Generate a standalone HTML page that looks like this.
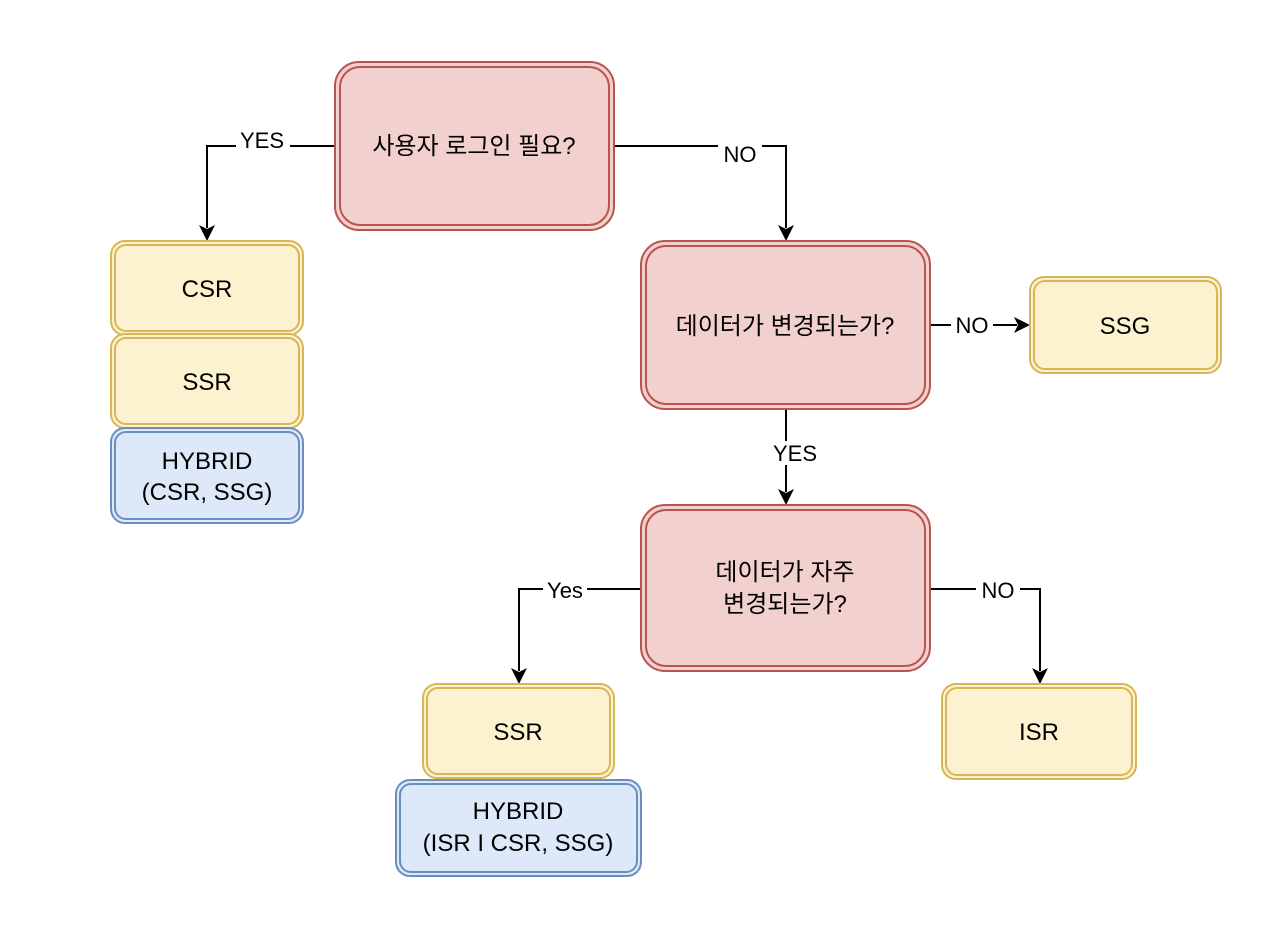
<!DOCTYPE html>
<html><head><meta charset="utf-8"><style>
html,body{margin:0;padding:0;background:#fff;}
svg text{font-family:"Liberation Sans","Noto Sans CJK KR",sans-serif;fill:#000;}
</style></head><body>
<svg width="1280" height="935" viewBox="0 0 1280 935" xmlns="http://www.w3.org/2000/svg">
<defs>
<marker id="a" markerWidth="14" markerHeight="14" refX="7" refY="12" orient="auto" markerUnits="userSpaceOnUse">
<path d="M0,0 L7,4 L14,0 L7,14 Z" fill="#000" transform="rotate(0)"/>
</marker>
</defs>
<g fill="none" stroke="#000" stroke-width="2">
<polyline points="335,146 207,146 207,228"/>
<polyline points="614,146 786,146 786,228"/>
<polyline points="930,325 1017,325"/>
<polyline points="786,409 786,492"/>
<polyline points="641,589 519,589 519,671"/>
<polyline points="930,589 1040,589 1040,671"/>
</g>
<g fill="#000">
<path d="M199,225 L207,241 L215,225 L207,229 Z"/>
<path d="M778,225 L786,241 L794,225 L786,229 Z"/>
<path d="M1014,317 L1030,325 L1014,333 L1018,325 Z"/>
<path d="M778,489 L786,505 L794,489 L786,493 Z"/>
<path d="M511,668 L519,684 L527,668 L519,672 Z"/>
<path d="M1032,668 L1040,684 L1048,668 L1040,672 Z"/>
</g>
<g font-size="22" text-anchor="middle">
<rect x="236" y="128" width="54" height="24" fill="#fff"/><text x="262" y="148">YES</text>
<rect x="718" y="142" width="44" height="24" fill="#fff"/><text x="740" y="162">NO</text>
<rect x="951" y="313" width="42" height="24" fill="#fff"/><text x="972" y="333">NO</text>
<rect x="766" y="441" width="58" height="24" fill="#fff"/><text x="795" y="461">YES</text>
<rect x="543" y="578" width="44" height="24" fill="#fff"/><text x="565" y="598">Yes</text>
<rect x="976" y="578" width="44" height="24" fill="#fff"/><text x="998" y="598">NO</text>
</g>
<g stroke-width="2">
<!-- red -->
<rect x="335" y="62" width="279" height="168" rx="24" fill="#f2d0ce" stroke="#b85450"/>
<rect x="340" y="67" width="269" height="158" rx="20" fill="none" stroke="#b85450"/>
<rect x="641" y="241" width="289" height="168" rx="24" fill="#f2d0ce" stroke="#b85450"/>
<rect x="646" y="246" width="279" height="158" rx="20" fill="none" stroke="#b85450"/>
<rect x="641" y="505" width="289" height="166" rx="24" fill="#f2d0ce" stroke="#b85450"/>
<rect x="646" y="510" width="279" height="156" rx="20" fill="none" stroke="#b85450"/>
<!-- yellow -->
<rect x="111" y="241" width="192" height="94" rx="14" fill="#fdf2d0" stroke="#d6b656"/>
<rect x="115" y="245" width="184" height="86" rx="11" fill="none" stroke="#d6b656"/>
<rect x="111" y="334" width="192" height="94" rx="14" fill="#fdf2d0" stroke="#d6b656"/>
<rect x="115" y="338" width="184" height="86" rx="11" fill="none" stroke="#d6b656"/>
<rect x="1030" y="277" width="191" height="96" rx="14" fill="#fdf2d0" stroke="#d6b656"/>
<rect x="1034" y="281" width="183" height="88" rx="11" fill="none" stroke="#d6b656"/>
<rect x="423" y="684" width="191" height="94" rx="14" fill="#fdf2d0" stroke="#d6b656"/>
<rect x="427" y="688" width="183" height="86" rx="11" fill="none" stroke="#d6b656"/>
<rect x="942" y="684" width="194" height="95" rx="14" fill="#fdf2d0" stroke="#d6b656"/>
<rect x="946" y="688" width="186" height="87" rx="11" fill="none" stroke="#d6b656"/>
<!-- blue -->
<rect x="111" y="428" width="192" height="95" rx="14" fill="#dde8f8" stroke="#6c8ebf"/>
<rect x="115" y="432" width="184" height="87" rx="11" fill="none" stroke="#6c8ebf"/>
<rect x="396" y="780" width="245" height="96" rx="14" fill="#dde8f8" stroke="#6c8ebf"/>
<rect x="400" y="784" width="237" height="88" rx="11" fill="none" stroke="#6c8ebf"/>
</g>
<g font-size="24" text-anchor="middle">
<text x="474" y="154">사용자 로그인 필요?</text>
<text x="785" y="334">데이터가 변경되는가?</text>
<text x="785" y="580">데이터가 자주</text>
<text x="785" y="612">변경되는가?</text>
<text x="207" y="297">CSR</text>
<text x="207" y="390">SSR</text>
<text x="207" y="469">HYBRID</text>
<text x="207" y="500">(CSR, SSG)</text>
<text x="1125" y="334">SSG</text>
<text x="518" y="740">SSR</text>
<text x="1039" y="740">ISR</text>
<text x="518" y="819">HYBRID</text>
<text x="518" y="851">(ISR I CSR, SSG)</text>
</g>
</svg>
</body></html>
